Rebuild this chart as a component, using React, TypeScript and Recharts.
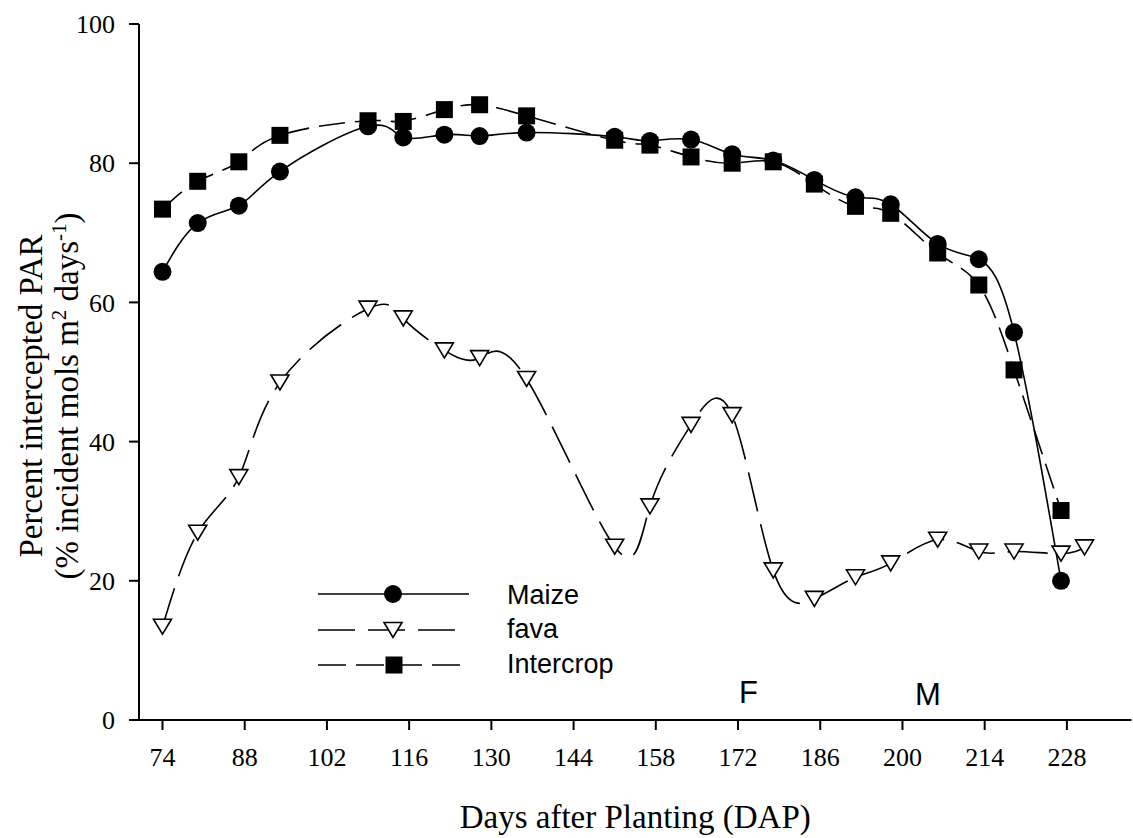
import { LineChart, Line, XAxis, YAxis, Label } from 'recharts';

// sampling days (DAP) and percent intercepted PAR
const days = [74, 80, 87, 94, 109, 115, 122, 128, 136, 151, 157, 164, 171, 178, 185, 192, 198, 206, 213, 219, 227, 231];
const maize = [64.4, 71.4, 73.9, 78.8, 85.3, 83.7, 84.1, 83.9, 84.4, 83.8, 83.2, 83.4, 81.3, 80.4, 77.6, 75.1, 74.1, 68.4, 66.2, 55.7, 20.0, null];
const fava = [13.4, 26.9, 34.9, 48.5, 59.1, 57.7, 53.1, 52.0, 49.0, 24.9, 30.7, 42.4, 43.8, 21.5, 17.4, 20.5, 22.5, 25.9, 24.2, 24.2, 23.9, 24.8];
const intercrop = [73.4, 77.4, 80.2, 84.0, 86.1, 86.0, 87.7, 88.4, 86.8, 83.3, 82.6, 80.9, 80.0, 80.2, 77.0, 73.8, 72.8, 67.1, 62.5, 50.3, 30.1, null];

const xTicks = [74, 88, 102, 116, 130, 144, 158, 172, 186, 200, 214, 228];
const yTicks = [0, 20, 40, 60, 80, 100];

const data = days.map((day, i) => ({
  day,
  maize: maize[i],
  fava: fava[i],
  intercrop: intercrop[i],
}));

const SERIF = '"Liberation Serif", "Times New Roman", serif';
const SANS = '"Liberation Sans", Arial, sans-serif';

type DotProps = { cx?: number | null; cy?: number | null; index?: number; value?: number | null };

const CircleDot = ({ cx, cy, index, value }: DotProps) => {
  if (cx == null || cy == null || value == null) return <g key={`c-${index}`} />;
  return <circle key={`c-${index}`} cx={cx} cy={cy} r={9} fill="#000" />;
};

const SquareDot = ({ cx, cy, index, value }: DotProps) => {
  if (cx == null || cy == null || value == null) return <g key={`s-${index}`} />;
  return <rect key={`s-${index}`} x={cx - 8.5} y={cy - 8.5} width={17} height={17} fill="#000" />;
};

const TriDot = ({ cx, cy, index, value }: DotProps) => {
  if (cx == null || cy == null || value == null) return <g key={`t-${index}`} />;
  return (
    <polygon
      key={`t-${index}`}
      points={`${cx - 9},${cy - 7.5} ${cx + 9},${cy - 7.5} ${cx},${cy + 7.5}`}
      fill="#fff"
      stroke="#000"
      strokeWidth={1.6}
    />
  );
};

const YTitle = () => (
  <g>
    <text
      transform="translate(42, 396) rotate(-90)"
      textAnchor="middle"
      fontFamily={SERIF}
      fontSize={33}
      fill="#000"
    >
      Percent intercepted PAR
    </text>
    <text
      transform="translate(78, 396) rotate(-90)"
      textAnchor="middle"
      fontFamily={SERIF}
      fontSize={33}
      fill="#000"
    >
      (% incident mols m
      <tspan dy={-12} fontSize={21}>2</tspan>
      <tspan dy={12} fontSize={33}> days</tspan>
      <tspan dy={-12} fontSize={21}>-1</tspan>
      <tspan dy={12} fontSize={33}>)</tspan>
    </text>
  </g>
);

const LegendAndNotes = () => (
  <svg
    width={1133}
    height={838}
    style={{ position: 'absolute', left: 0, top: 0, pointerEvents: 'none' }}
  >
    <line x1={318} y1={594} x2={469} y2={594} stroke="#000" strokeWidth={1.6} />
    <circle cx={393} cy={594} r={9} fill="#000" />
    <line x1={318} y1={630} x2={455} y2={630} stroke="#000" strokeWidth={1.6} strokeDasharray="37 13" />
    <polygon points="384,622.5 402,622.5 393,637.5" fill="#fff" stroke="#000" strokeWidth={1.6} />
    <line x1={318} y1={665} x2={460} y2={665} stroke="#000" strokeWidth={1.6} strokeDasharray="28 10" />
    <rect x={385.5} y={656.5} width={17} height={17} fill="#000" />
    <g fontFamily={SANS} fontSize={27} fill="#000">
      <text x={507} y={604}>Maize</text>
      <text x={507} y={638}>fava</text>
      <text x={507} y={673}>Intercrop</text>
    </g>
    <g fontFamily={SANS} fontSize={31} fill="#000">
      <text x={739} y={703}>F</text>
      <text x={915} y={705}>M</text>
    </g>
  </svg>
);

export default function App() {
  return (
    <div style={{ position: 'absolute', left: 0, top: 0, width: 1133, height: 838, background: '#fff' }}>
      <LineChart width={1133} height={838} data={data} margin={{ top: 24, right: 1.5, bottom: 0, left: 0 }}>
        <XAxis
          dataKey="day"
          type="number"
          domain={[70, 239]}
          ticks={xTicks}
          allowDataOverflow
          height={118}
          tickSize={10}
          tickMargin={18}
          stroke="#000"
          strokeWidth={2}
          tick={{ fontSize: 26, fontFamily: SERIF, fill: '#000' }}
        >
          <Label
            value="Days after Planting (DAP)"
            position="insideBottom"
            offset={10}
            style={{ fontSize: 33, fontFamily: SERIF, fill: '#000' }}
          />
        </XAxis>
        <YAxis
          type="number"
          domain={[0, 100]}
          ticks={yTicks}
          width={139}
          tickSize={10}
          tickMargin={14}
          stroke="#000"
          strokeWidth={2}
          tick={{ fontSize: 26, fontFamily: SERIF, fill: '#000' }}
          label={<YTitle />}
        />
        <Line
          dataKey="fava"
          type="natural"
          stroke="#000"
          strokeWidth={1.6}
          strokeDasharray="40 13"
          dot={TriDot}
          isAnimationActive={false}
        />
        <Line
          dataKey="intercrop"
          type="natural"
          stroke="#000"
          strokeWidth={1.6}
          strokeDasharray="26 10"
          dot={SquareDot}
          isAnimationActive={false}
        />
        <Line
          dataKey="maize"
          type="natural"
          stroke="#000"
          strokeWidth={1.6}
          dot={CircleDot}
          isAnimationActive={false}
        />
      </LineChart>
      <LegendAndNotes />
    </div>
  );
}
